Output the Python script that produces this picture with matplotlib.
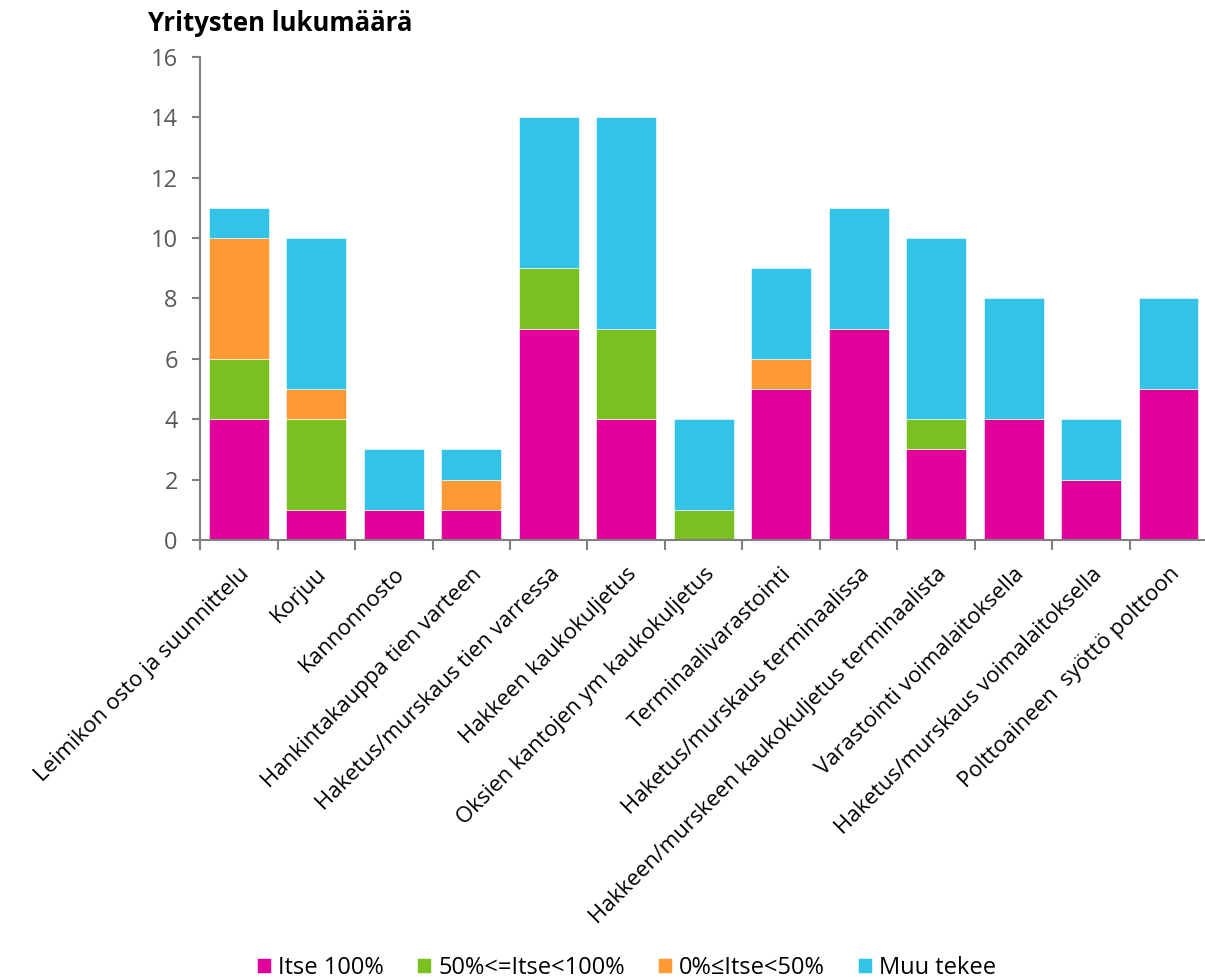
"""Stacked bar chart: company counts per task in the forest fuel supply chain."""
import matplotlib

matplotlib.use("Agg")

import matplotlib.pyplot as plt
import numpy as np

categories = [
    "Leimikon osto ja suunnittelu",
    "Korjuu",
    "Kannonnosto",
    "Hankintakauppa tien varteen",
    "Haketus/murskaus tien varressa",
    "Hakkeen kaukokuljetus",
    "Oksien kantojen ym kaukokuljetus",
    "Terminaalivarastointi",
    "Haketus/murskaus terminaalissa",
    "Hakkeen/murskeen kaukokuljetus terminaalista",
    "Varastointi voimalaitoksella",
    "Haketus/murskaus voimalaitoksella",
    "Polttoaineen  syöttö polttoon",
]

series_names = ["Itse 100%", "50%<=Itse<100%", "0%≤Itse<50%", "Muu tekee"]
itse_100 = [4, 1, 1, 1, 7, 4, 0, 5, 7, 3, 4, 2, 5]
itse_50_100 = [2, 3, 0, 0, 2, 3, 1, 0, 0, 1, 0, 0, 0]
itse_0_50 = [4, 1, 0, 1, 0, 0, 0, 1, 0, 0, 0, 0, 0]
muu_tekee = [1, 5, 2, 1, 5, 7, 3, 3, 4, 6, 4, 2, 3]

COLORS = ["#E0009A", "#7AC020", "#FF9933", "#33C3E6"]
AXIS_GRAY = "#808080"
TEXT_GRAY = "#595959"

plt.rcParams["font.family"] = ["Open Sans", "DejaVu Sans"]

fig = plt.figure(figsize=(12.05, 9.8), dpi=100)
ax = fig.add_axes([0.166, 0.449, 0.836, 0.493])

x = np.arange(len(categories))
bottom = np.zeros(len(categories))
handles = []
for name, values, color in zip(
    series_names, [itse_100, itse_50_100, itse_0_50, muu_tekee], COLORS
):
    bars = ax.bar(x, values, bottom=bottom, width=0.77, color=color,
                  edgecolor="white", linewidth=0.4, label=name)
    handles.append(bars)
    bottom += np.array(values)

ax.set_xlim(-0.5, len(categories) - 0.5)
ax.set_ylim(0, 16)
ax.set_yticks(range(0, 17, 2))
ax.tick_params(axis="y", direction="out", length=6, width=1.5, color=AXIS_GRAY,
               labelsize=17, labelcolor=TEXT_GRAY, pad=10)

# category labels sit at bar centres, tick marks at the category boundaries
ax.set_xticks(x)
ax.set_xticklabels(categories, rotation=45, ha="right", rotation_mode="anchor",
                   fontsize=16, color="black")
ax.tick_params(axis="x", length=0, pad=17)
ax.set_xticks(np.arange(-0.5, len(categories), 1), minor=True)
ax.tick_params(axis="x", which="minor", direction="out", length=7, width=1.5,
               color=AXIS_GRAY)

for side in ["top", "right"]:
    ax.spines[side].set_visible(False)
for side in ["left", "bottom"]:
    ax.spines[side].set_color(AXIS_GRAY)
    ax.spines[side].set_linewidth(1.5)

fig.text(0.123, 0.962, "Yritysten lukumäärä", fontsize=18.5, fontweight="bold",
         color="black", ha="left", va="bottom")

fig.legend(handles=handles, labels=series_names, loc="lower center",
           bbox_to_anchor=(0.52, -0.022), ncol=4, frameon=False, fontsize=17,
           handlelength=0.6, handleheight=0.6, handletextpad=0.3,
           columnspacing=1.4, labelcolor="black")

fig.savefig("out.png", dpi=100)
